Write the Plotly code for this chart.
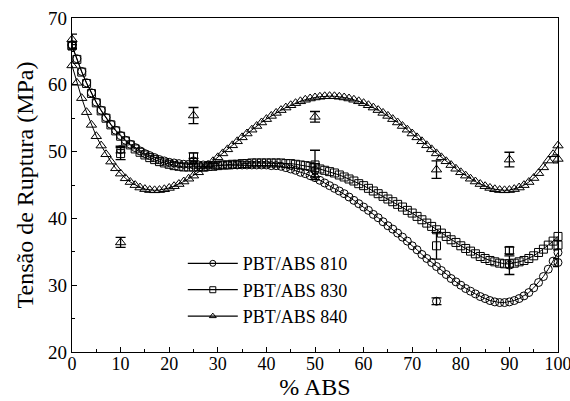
import plotly.graph_objects as go

# Fitted curves (x = 0..100 step 1)
x_fit = list(range(101))
fit_810 = [65.9, 63.9, 62.0, 60.3, 58.8, 57.4, 56.2, 55.1, 54.1, 53.2,
           52.4, 51.7, 51.1, 50.6, 50.1, 49.7, 49.4, 49.1, 48.8, 48.6,
           48.4, 48.3, 48.2, 48.1, 48.1, 48.0, 48.0, 48.0, 48.0, 48.0,
           48.0, 48.0, 48.0, 48.0, 48.0, 48.0, 48.0, 48.0, 48.0, 48.0,
           48.0, 47.9, 47.9, 47.8, 47.6, 47.4, 47.2, 46.9, 46.7, 46.4,
           46.1, 45.7, 45.3, 44.9, 44.5, 44.1, 43.7, 43.2, 42.7, 42.2,
           41.7, 41.2, 40.6, 40.1, 39.5, 38.9, 38.4, 37.8, 37.2, 36.6,
           35.9, 35.3, 34.6, 34.0, 33.4, 32.8, 32.2, 31.6, 31.0, 30.5,
           30.0, 29.5, 29.1, 28.7, 28.3, 28.0, 27.7, 27.5, 27.4, 27.4,
           27.5, 27.7, 28.0, 28.4, 28.9, 29.6, 30.4, 31.3, 32.4, 33.6,
           34.9]
fit_830 = [65.8, 63.8, 61.9, 60.2, 58.7, 57.3, 56.1, 55.0, 54.0, 53.1,
           52.3, 51.6, 51.0, 50.4, 49.9, 49.5, 49.1, 48.8, 48.5, 48.3,
           48.1, 47.9, 47.8, 47.7, 47.7, 47.7, 47.7, 47.7, 47.8, 47.8,
           47.9, 48.0, 48.0, 48.1, 48.1, 48.2, 48.2, 48.3, 48.3, 48.3,
           48.3, 48.3, 48.3, 48.3, 48.2, 48.2, 48.1, 48.0, 47.9, 47.8,
           47.6, 47.4, 47.2, 47.0, 46.8, 46.5, 46.2, 45.9, 45.6, 45.2,
           44.9, 44.5, 44.1, 43.7, 43.3, 42.9, 42.5, 42.1, 41.7, 41.2,
           40.8, 40.3, 39.8, 39.3, 38.8, 38.3, 37.8, 37.3, 36.8, 36.4,
           35.9, 35.5, 35.1, 34.7, 34.3, 34.0, 33.7, 33.5, 33.3, 33.2,
           33.2, 33.3, 33.5, 33.7, 34.0, 34.4, 34.9, 35.4, 36.0, 36.6,
           37.3]
fit_840 = [62.9, 60.3, 58.0, 55.9, 54.0, 52.3, 50.9, 49.6, 48.5, 47.5,
           46.7, 46.0, 45.44, 44.98, 44.62, 44.38, 44.24, 44.2, 44.24, 44.36,
           44.56, 44.82, 45.14, 45.52, 45.94, 46.4, 46.9, 47.43, 47.98, 48.55,
           49.14, 49.73, 50.34, 50.94, 51.54, 52.13, 52.71, 53.28, 53.83, 54.36,
           54.86, 55.34, 55.79, 56.21, 56.59, 56.94, 57.25, 57.53, 57.76, 57.95,
           58.1, 58.21, 58.28, 58.3, 58.28, 58.21, 58.1, 57.95, 57.76, 57.53,
           57.25, 56.94, 56.59, 56.21, 55.79, 55.34, 54.86, 54.36, 53.83, 53.28,
           52.71, 52.13, 51.54, 50.94, 50.34, 49.73, 49.14, 48.55, 47.98, 47.43,
           46.9, 46.4, 45.94, 45.52, 45.14, 44.82, 44.56, 44.36, 44.24, 44.2,
           44.24, 44.38, 44.62, 44.98, 45.44, 46.04, 46.77, 47.64, 48.66, 49.6,
           50.9]

# Experimental points with error bars
x_exp = [0, 10, 25, 50, 75, 90, 100]
exp_810 = [66.0, 50.3, 48.6, 47.2, 27.6, 33.0, 33.4]
err_810 = [0.5, 0.5, 0.4, 1.0, 0.5, 1.4, 0.6]
exp_830 = [65.9, 49.7, 49.2, 48.0, 35.9, 35.2, 36.0]
err_830 = [0.5, 0.9, 0.6, 2.2, 2.0, 0.5, 0.7]
exp_840 = [66.8, 36.4, 55.4, 55.2, 47.3, 48.8, 48.9]
err_840 = [0.8, 0.75, 1.2, 0.8, 1.3, 1.1, 0.6]

names = ["PBT/ABS 810", "PBT/ABS 830", "PBT/ABS 840"]
symbols = ["circle-open", "square-open", "triangle-up-open"]
sizes = [8, 8, 9]

FONT = "Liberation Serif, Times New Roman, serif"
fig = go.Figure()

for ye, ee, sym, sz in zip([exp_810, exp_830, exp_840], [err_810, err_830, err_840], symbols, sizes):
    fig.add_trace(go.Scatter(
        x=x_exp, y=ye, mode="markers", showlegend=False, cliponaxis=False,
        marker=dict(symbol=sym, size=sz, color="black", line=dict(width=1, color="black")),
        error_y=dict(type="data", array=ee, visible=True, color="black", thickness=1.3, width=5),
    ))

for yf, sym, sz in zip([fit_810, fit_830, fit_840], symbols, sizes):
    fig.add_trace(go.Scatter(
        x=x_fit, y=yf, mode="lines+markers", showlegend=False, cliponaxis=False,
        line=dict(color="black", width=1),
        marker=dict(symbol=sym, size=sz, color="black", line=dict(width=1, color="black")),
    ))

# legend entries (smaller marker like the original legend)
for i, (sym, nm) in enumerate(zip(symbols, names)):
    fig.add_trace(go.Scatter(
        x=[None], y=[None], mode="lines+markers", name=nm, legendgroup=f"g{i}",
        line=dict(color="black", width=1.2),
        marker=dict(symbol=sym, size=6, color="black", line=dict(width=1, color="black")),
    ))

fig.update_layout(
    width=570, height=401,
    margin=dict(l=72, r=12, t=18, b=49),
    paper_bgcolor="white", plot_bgcolor="white",
    font=dict(family=FONT, color="black", size=18),
    showlegend=True,
    legend=dict(x=0.228, y=0.320, xanchor="left", yanchor="top",
                bgcolor="rgba(0,0,0,0)", font=dict(size=18, family=FONT),
                itemwidth=50, tracegroupgap=0),
)
fig.update_xaxes(
    range=[0, 100], dtick=10, tick0=0, showgrid=False, zeroline=False,
    showline=True, linecolor="black", linewidth=1.3, mirror=True, automargin=False,
    ticks="inside", ticklen=5, tickcolor="black",
    minor=dict(dtick=5, ticks="inside", ticklen=3, tickcolor="black"),
    tickfont=dict(size=18, family=FONT), ticklabelstandoff=-5, ticklabeloverflow="allow",
    title=dict(text="% ABS", font=dict(size=24, family=FONT), standoff=1),
)
fig.update_yaxes(
    range=[20, 70], dtick=10, tick0=20, showgrid=False, zeroline=False,
    showline=True, linecolor="black", linewidth=1.3, mirror=True, automargin=False,
    ticks="inside", ticklen=5, tickcolor="black",
    minor=dict(dtick=5, ticks="inside", ticklen=3, tickcolor="black"),
    tickfont=dict(size=19, family=FONT),
    title=dict(text="Tensão de Ruptura (MPa)", font=dict(size=24, family=FONT), standoff=7),
)

fig.write_html("out.html", config={"displayModeBar": False},
               post_script="document.body.style.margin='0';")
